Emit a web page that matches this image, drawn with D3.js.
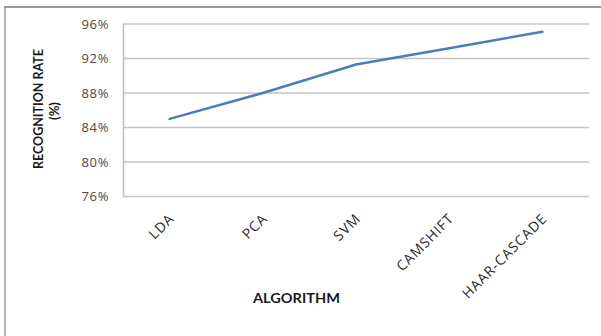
<!DOCTYPE html>
<html>
<head>
<meta charset="utf-8">
<script src="https://cdn.jsdelivr.net/npm/d3@7"></script>
<style>
  html, body { margin: 0; padding: 0; background: #fff; }
  svg { display: block; }
  .tick text { font-family: "Open Sans", Lato, sans-serif; }
</style>
</head>
<body>
<svg id="chart" width="601" height="336"></svg>
<script>
// Recognition rate per algorithm
const categories = ["LDA", "PCA", "SVM", "CAMSHIFT", "HAAR-CASCADE"];
const rates = [85, 88, 91.3, 93.2, 95.1];
const yTicks = [76, 80, 84, 88, 92, 96];

const svg = d3.select("#chart");
const W = 601, H = 336;
const plot = { left: 123, right: 589, top: 24, bottom: 196.5 };

svg.append("rect").attr("width", W).attr("height", H).attr("fill", "#fff");

// outer frame (left and top edges)
svg.append("line").attr("x1", 5).attr("x2", 5).attr("y1", 7).attr("y2", H)
  .attr("stroke", "#b4b4b4").attr("stroke-width", 2);
svg.append("line").attr("x1", 4).attr("x2", W).attr("y1", 7).attr("y2", 7)
  .attr("stroke", "#9a9a9a").attr("stroke-width", 2);

const x = d3.scalePoint().domain(categories).range([plot.left, plot.right]).padding(0.5);
const y = d3.scaleLinear().domain([76, 96]).range([plot.bottom, plot.top]);

// horizontal gridlines
svg.append("g")
  .selectAll("line")
  .data(yTicks)
  .join("line")
  .attr("x1", plot.left).attr("x2", plot.right)
  .attr("y1", d => y(d)).attr("y2", d => y(d))
  .attr("stroke", "#c4c4c4").attr("stroke-width", 1.5);

// y axis
const yAxis = svg.append("g")
  .attr("transform", `translate(${plot.left},0)`)
  .call(d3.axisLeft(y).tickValues(yTicks).tickSize(0).tickPadding(14)
    .tickFormat(d => d + "%"));
yAxis.select(".domain").attr("stroke", "#bdbdbd").attr("stroke-width", 1.5);
yAxis.selectAll("text").attr("font-size", 13).attr("fill", "#4a4a4a")
  .attr("letter-spacing", 0.6);

// x axis labels, rotated
const xAxis = svg.append("g")
  .attr("transform", `translate(0,${plot.bottom})`)
  .call(d3.axisBottom(x).tickSize(0).tickPadding(0));
xAxis.select(".domain").remove();
xAxis.selectAll("text")
  .attr("font-size", 14).attr("fill", "#2a2a2a")
  .attr("letter-spacing", 0.9)
  .attr("text-anchor", "end")
  .attr("dy", 0)
  .attr("transform", "translate(5,23) rotate(-45)");

// line series
svg.append("path")
  .datum(rates)
  .attr("fill", "none")
  .attr("stroke", "#4a7ebb")
  .attr("stroke-width", 2.5)
  .attr("stroke-linejoin", "round")
  .attr("stroke-linecap", "round")
  .attr("d", d3.line().x((d, i) => x(categories[i])).y(d => y(d)));

// axis titles
const titleFont = "Lato, 'Open Sans', sans-serif";
svg.append("text")
  .attr("transform", "translate(43,109) rotate(-90)")
  .attr("text-anchor", "middle")
  .attr("font-family", titleFont).attr("font-weight", "bold").attr("font-size", 13.5)
  .attr("fill", "#1a1a1a")
  .attr("textLength", 120).attr("lengthAdjust", "spacingAndGlyphs")
  .text("RECOGNITION RATE");
svg.append("text")
  .attr("transform", "translate(59,111) rotate(-90)")
  .attr("text-anchor", "middle")
  .attr("font-family", titleFont).attr("font-weight", "bold").attr("font-size", 13)
  .attr("fill", "#1a1a1a")
  .text("(%)");
svg.append("text")
  .attr("x", 296.5).attr("y", 303)
  .attr("text-anchor", "middle")
  .attr("font-family", titleFont).attr("font-weight", "bold").attr("font-size", 13.5)
  .attr("fill", "#1a1a1a")
  .attr("textLength", 87).attr("lengthAdjust", "spacingAndGlyphs")
  .text("ALGORITHM");
</script>
</body>
</html>
